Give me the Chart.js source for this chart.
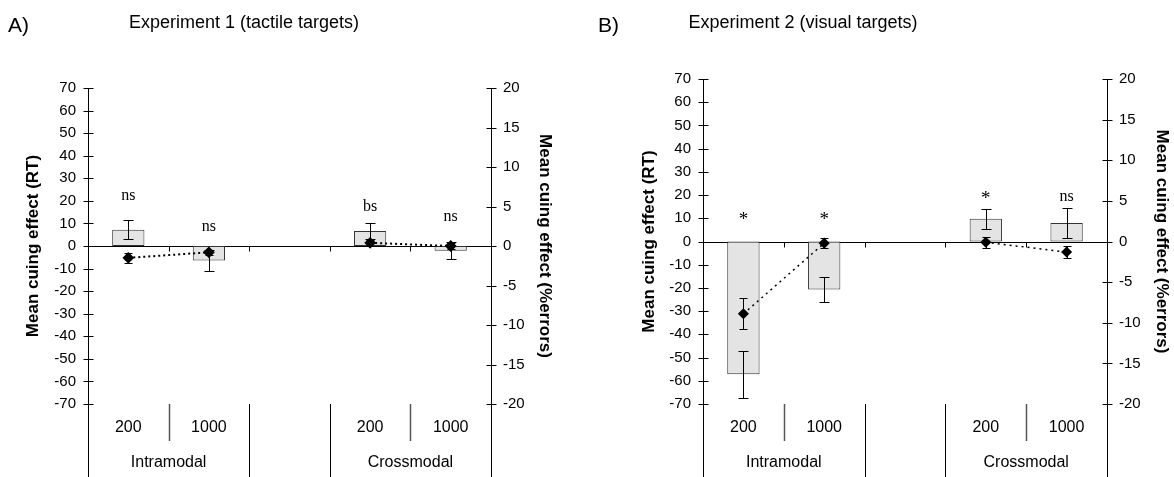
<!DOCTYPE html>
<html>
<head>
<meta charset="utf-8">
<script src="https://cdn.jsdelivr.net/npm/chart.js@4.4.0/dist/chart.umd.min.js"></script>
<style>
body { margin: 0; background: #fff; width: 1174px; height: 477px; overflow: hidden; position: relative; font-family: 'Liberation Sans', Arial, sans-serif; color: #000; }
.panel { position: absolute; top: 0; width: 587px; height: 477px; }
.letra { position: absolute; top: 14px; font-size: 21px; line-height: 1; }
.titulo { position: absolute; top: 13px; font-size: 18px; line-height: 1; white-space: nowrap; transform: translateX(-50%); }
</style>
</head>
<body>
<div class="panel" style="left:0"><canvas id="graficoA"></canvas></div>
<div class="panel" style="left:587px"><canvas id="graficoB"></canvas></div>
<div class="letra" style="left:8px">A)</div>
<div class="titulo" style="left:244px">Experiment 1 (tactile targets)</div>
<div class="letra" style="left:598px">B)</div>
<div class="titulo" style="left:803px">Experiment 2 (visual targets)</div>

<script>
// categorias (a terceira fica vazia, separa os grupos)
const categorias = ['200', '1000', '', '200', '1000'];
const grupos = ['Intramodal', 'Crossmodal'];
const grupoDaCategoria = [0, 0, null, 1, 1];

// Experimento 1 - alvos tateis
const rtA = [7.2, -6.4, null, 6.6, -2.1];
const rtErroA = [4.3, 4.7, null, 3.4, 3.7];
const errosA = [-1.5, -0.8, null, 0.4, 0.0];
const errosErroA = [0.65, 0.35, null, 0.35, 0.4];
const sigA = ['ns', 'ns', '', 'bs', 'ns'];
const sigNivelA = [20.4, 6.8, null, 15.6, 11.2];

// Experimento 2 - alvos visuais
const rtB = [-57.2, -20.7, null, 9.8, 8.0];
const rtErroB = [10, 5.2, null, 4.2, 6.4];
const errosB = [-8.9, -0.2, null, -0.1, -1.3];
const errosErroB = [1.9, 0.6, null, 0.7, 0.75];
const sigB = ['*', '*', '', '*', 'ns'];
const sigNivelB = [6.9, 6.9, null, 16.0, 17.5];

const fonteSans = "'Liberation Sans', Arial, sans-serif";
const fonteSerif = "'Liberation Serif', 'Times New Roman', serif";

Chart.defaults.font.family = fonteSans;
Chart.defaults.color = '#000';

const pluginBarrasErro = {
    id: 'barrasErro',
    afterDatasetDraw(chart, args) {
        const ds = chart.data.datasets[args.index];
        if (!ds.erro) return;
        const ctx = chart.ctx;
        const escala = chart.scales[ds.yAxisID];
        ctx.save();
        ctx.strokeStyle = '#000';
        ctx.lineWidth = 1;
        args.meta.data.forEach(function(el, i) {
            const v = ds.data[i], e = ds.erro[i];
            if (v == null || e == null) return;
            const x = Math.round(el.x) + 0.5;
            const yTopo = Math.round(escala.getPixelForValue(v + e)) + 0.5;
            const yBase = Math.round(escala.getPixelForValue(v - e)) + 0.5;
            const c = ds.capErro;
            ctx.beginPath();
            ctx.moveTo(x, yTopo); ctx.lineTo(x, yBase);
            ctx.moveTo(x - c, yTopo); ctx.lineTo(x + c, yTopo);
            ctx.moveTo(x - c, yBase); ctx.lineTo(x + c, yBase);
            ctx.stroke();
        });
        ctx.restore();
    }
};

const pluginEixos = {
    id: 'eixos',
    beforeDatasetsDraw(chart) {
        const {ctx, chartArea, scales} = chart;
        const y0 = Math.round(scales.y.getPixelForValue(0)) + 0.5;
        ctx.save();
        ctx.strokeStyle = '#000';
        ctx.lineWidth = 1;
        ctx.beginPath();
        ctx.moveTo(chartArea.left, y0);
        ctx.lineTo(chartArea.right, y0);
        for (let i = 0; i < categorias.length - 1; i++) {
            const xb = Math.round((scales.x.getPixelForValue(i) + scales.x.getPixelForValue(i + 1)) / 2) + 0.5;
            ctx.moveTo(xb, y0);
            ctx.lineTo(xb, y0 + 5);
        }
        ctx.stroke();
        ctx.restore();
    },
    afterDatasetsDraw(chart) {
        const {ctx, scales} = chart;
        const cfg = chart.options.plugins.eixos;
        ctx.save();
        ctx.fillStyle = '#000';
        ctx.textAlign = 'center';
        ctx.textBaseline = 'alphabetic';
        cfg.sig.forEach(function(txt, i) {
            if (!txt || cfg.sigNivel[i] == null) return;
            ctx.font = (txt === '*' ? '19px ' : '16px ') + fonteSerif;
            ctx.fillText(txt, scales.x.getPixelForValue(i), scales.y.getPixelForValue(cfg.sigNivel[i]));
        });
        ctx.restore();
    },
    afterDraw(chart) {
        const {ctx, chartArea, scales} = chart;
        const baixo = chart.height;
        ctx.save();
        ctx.strokeStyle = '#000';
        ctx.lineWidth = 1;
        ctx.beginPath();
        // marcas dos eixos verticais, atravessando a linha
        ['y', 'y1'].forEach(function(id) {
            const s = scales[id];
            const ax = Math.round(id === 'y' ? chartArea.left : chartArea.right) + 0.5;
            s.ticks.forEach(function(t) {
                const py = Math.round(s.getPixelForValue(t.value)) + 0.5;
                ctx.moveTo(ax - 5, py);
                ctx.lineTo(ax + 5, py);
            });
            ctx.moveTo(ax, chartArea.bottom);
            ctx.lineTo(ax, baixo);
        });
        ctx.stroke();

        // separadores abaixo do grafico
        for (let i = 0; i < categorias.length - 1; i++) {
            const xb = Math.round((scales.x.getPixelForValue(i) + scales.x.getPixelForValue(i + 1)) / 2) + 0.5;
            const mesmoGrupo = grupoDaCategoria[i] != null && grupoDaCategoria[i] === grupoDaCategoria[i + 1];
            ctx.beginPath();
            ctx.strokeStyle = mesmoGrupo ? '#555' : '#000';
            ctx.lineWidth = mesmoGrupo ? 1.5 : 1;
            ctx.moveTo(xb, chartArea.bottom);
            ctx.lineTo(xb, mesmoGrupo ? chartArea.bottom + 37 : baixo);
            ctx.stroke();
        }

        // nomes dos grupos
        ctx.fillStyle = '#000';
        ctx.font = '16px ' + fonteSans;
        ctx.textAlign = 'center';
        ctx.textBaseline = 'middle';
        grupos.forEach(function(nome, g) {
            const idx = [];
            grupoDaCategoria.forEach(function(gc, i) { if (gc === g) idx.push(i); });
            const xc = (scales.x.getPixelForValue(idx[0]) + scales.x.getPixelForValue(idx[idx.length - 1])) / 2;
            ctx.fillText(nome, xc, chartArea.bottom + 59);
        });
        ctx.restore();
    }
};

function criaGrafico(idCanvas, rt, rtErro, erros, errosErro, sig, sigNivel, geo) {
    const ctx = document.getElementById(idCanvas).getContext('2d');
    return new Chart(ctx, {
        data: {
            labels: categorias,
            datasets: [
                {
                    type: 'bar',
                    data: rt,
                    erro: rtErro,
                    capErro: 5,
                    yAxisID: 'y',
                    backgroundColor: '#e4e4e4',
                    borderColor: '#333',
                    borderWidth: 1,
                    borderSkipped: false,
                    barPercentage: 0.4,
                    categoryPercentage: 1,
                    order: 2
                },
                {
                    type: 'line',
                    data: erros,
                    erro: errosErro,
                    capErro: 4,
                    yAxisID: 'y1',
                    borderColor: '#000',
                    borderWidth: geo.linha,
                    borderDash: geo.traco,
                    pointStyle: 'rectRot',
                    pointRadius: 4.5,
                    pointBackgroundColor: '#000',
                    pointBorderColor: '#000',
                    spanGaps: false,
                    fill: false,
                    order: 1
                }
            ]
        },
        options: {
            responsive: true,
            maintainAspectRatio: false,
            animation: false,
            layout: { padding: { top: geo.topo, left: 0, right: 0, bottom: 0 } },
            plugins: {
                legend: { display: false },
                tooltip: { enabled: false },
                eixos: { sig: sig, sigNivel: sigNivel }
            },
            scales: {
                x: {
                    type: 'category',
                    position: 'bottom',
                    grid: { display: false, drawTicks: false },
                    border: { display: false },
                    ticks: { color: '#000', font: { size: 16 }, padding: 14, maxRotation: 0, autoSkip: false },
                    afterFit: function(s) { s.height = 73; }
                },
                y: {
                    position: 'left',
                    min: -70,
                    max: 70,
                    ticks: { stepSize: 10, color: '#000', font: { size: 15 }, padding: 12 },
                    grid: { display: false, drawTicks: false },
                    border: { display: true, color: '#000', width: 1 },
                    title: {
                        display: true,
                        text: 'Mean cuing effect (RT)',
                        color: '#000',
                        font: { size: 17, weight: 'bold' },
                        padding: { top: geo.padTituloEsq, bottom: 0 }
                    },
                    afterFit: function(s) { s.width = geo.larguraEsq; }
                },
                y1: {
                    position: 'right',
                    min: -20,
                    max: 20,
                    ticks: { stepSize: 5, color: '#000', font: { size: 15 }, padding: 12 },
                    grid: { display: false, drawTicks: false },
                    border: { display: true, color: '#000', width: 1 },
                    title: {
                        display: true,
                        text: 'Mean cuing effect (%errors)',
                        color: '#000',
                        font: { size: 17, weight: 'bold' },
                        padding: { top: geo.padTituloDir, bottom: 0 }
                    },
                    afterFit: function(s) { s.width = geo.larguraDir; }
                }
            }
        },
        plugins: [pluginEixos, pluginBarrasErro]
    });
}

window.onload = function() {
    criaGrafico('graficoA', rtA, rtErroA, errosA, errosErroA, sigA, sigNivelA,
        { topo: 88, larguraEsq: 88, larguraDir: 96, padTituloEsq: 22.8, padTituloDir: 31.8, linha: 2, traco: [2, 3] });
    criaGrafico('graficoB', rtB, rtErroB, errosB, errosErroB, sigB, sigNivelB,
        { topo: 79, larguraEsq: 116, larguraDir: 67, padTituloEsq: 51.8, padTituloDir: 1.8, linha: 1.5, traco: [2, 4] });
}
</script>
</body>
</html>
